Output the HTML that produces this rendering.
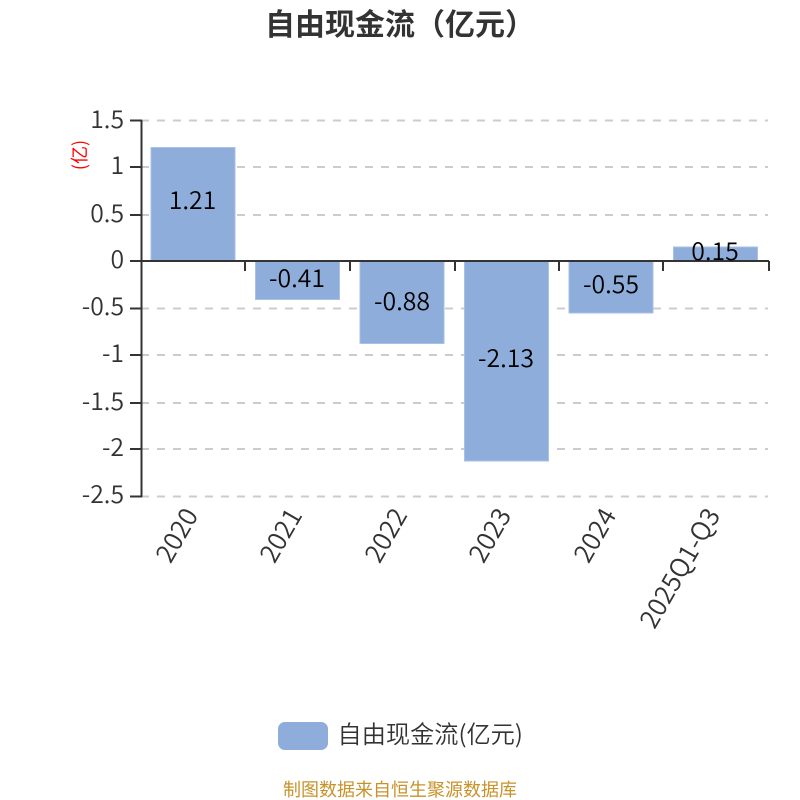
<!DOCTYPE html>
<html><head><meta charset="utf-8"><style>
html,body{margin:0;padding:0;background:#fff}
svg{display:block}
text{font-family:"Noto Sans CJK SC","Liberation Sans",sans-serif}
.y{font-size:24.700px;fill:#333;text-anchor:end;font-weight:350}
.l{font-size:24.800px;fill:#000;text-anchor:middle;font-weight:350}
.x{font-size:26px;fill:#333;text-anchor:end;font-weight:350}
</style></head><body>
<svg width="800" height="800" viewBox="0 0 800 800">
<rect width="800" height="800" fill="#fff"/>
<text x="400" y="35" font-size="30" font-weight="700" fill="#333" text-anchor="middle">自由现金流（亿元）</text>
<g stroke="#ccc" stroke-width="2" stroke-dasharray="8 8">
<path d="M141 120.500H768M141 167H768M141 215H768M141 308.500H768M141 355H768M141 403H768M141 449H768M141 496.500H768"/>
</g>
<g fill="#8eadda" stroke="#a9c1e4" stroke-width="1">
<rect x="151" y="147.500" width="84" height="114"/>
<rect x="255.500" y="261" width="84" height="38.500"/>
<rect x="360" y="261" width="84" height="82.500"/>
<rect x="464.500" y="261" width="84" height="200"/>
<rect x="569" y="261" width="84" height="52"/>
<rect x="673.500" y="247" width="84" height="14"/>
</g>
<g stroke="#333" stroke-width="2" fill="none">
<path d="M141.500 120V497"/>
<path d="M130 120.500H142M130 167H142M130 215H142M130 261H142M130 308.500H142M130 355H142M130 403H142M130 449H142M130 496.500H142"/>
<path d="M141 261H769"/>
<path d="M245 261V271M350 261V271M455 261V271M559 261V271M663 261V271M769 261V271"/>
</g>
<text x="79" y="155" font-size="18" fill="#f00" text-anchor="middle" transform="rotate(-90 79 155)" dominant-baseline="central">(亿)</text>
<text class="l" x="192.500" y="209">1.21</text>
<text class="l" x="297" y="287">-0.41</text>
<text class="l" x="402" y="310">-0.88</text>
<text class="l" x="506" y="367">-2.13</text>
<text class="l" x="611" y="293">-0.55</text>
<text class="l" x="715" y="260">0.15</text>
<text class="x" transform="translate(199 515) rotate(-60)">2020</text>
<text class="x" transform="translate(303 515) rotate(-60)">2021</text>
<text class="x" transform="translate(408 515) rotate(-60)">2022</text>
<text class="x" transform="translate(512 515) rotate(-60)">2023</text>
<text class="x" transform="translate(617 515) rotate(-60)">2024</text>
<text class="x" transform="translate(721 515) rotate(-60)">2025Q1-Q3</text>
<rect x="278" y="722" width="50" height="28" rx="7" fill="#8eadda"/>
<text x="337.500" y="743" font-size="24.200" fill="#333" font-weight="350">自由现金流(亿元)</text>
<text x="400" y="796" font-size="18" fill="#c7922a" text-anchor="middle">制图数据来自恒生聚源数据库</text>
<text class="y" x="124" y="128">1.5</text>
<text class="y" x="124" y="174">1</text>
<text class="y" x="124" y="222">0.5</text>
<text class="y" x="124" y="268">0</text>
<text class="y" x="124" y="315">-0.5</text>
<text class="y" x="124" y="362">-1</text>
<text class="y" x="124" y="410">-1.5</text>
<text class="y" x="124" y="456">-2</text>
<text class="y" x="124" y="503">-2.5</text>
</svg>
</body></html>
